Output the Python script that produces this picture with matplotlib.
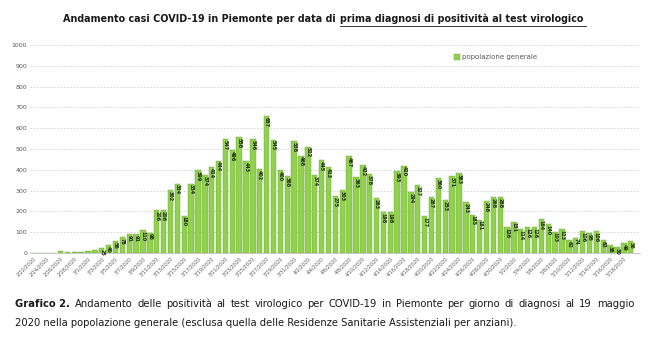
import numpy as np
import matplotlib
matplotlib.use("Agg")
import matplotlib.pyplot as plt
from matplotlib.lines import Line2D
from datetime import date, timedelta

# casi per giorno di prima diagnosi, popolazione generale (22/2 - 19/5/2020)
start = date(2020, 2, 22)
casi = [0, 1, 0, 2, 8, 6, 3, 5, 8, 14, 25, 40, 56, 78, 91, 91, 110, 98,
        206, 206, 302, 334, 180, 334, 399, 374, 414, 444, 547, 496, 558, 443,
        546, 402, 657,
        545, 400, 368, 538, 468, 512, 374, 445, 413, 275, 303, 467, 363, 422,
        378, 263, 198, 198, 393, 420, 294, 327, 177, 267, 360, 253, 371, 383,
        243, 185, 161, 248, 268, 268, 126, 151, 114, 126, 126, 164, 140, 103,
        113, 62, 74, 106, 95, 106, 62, 38, 30, 49, 56]
giorni = [start + timedelta(days=i) for i in range(len(casi))]
etichette = [f"{d.month}/{d.day}/{d.year}" for d in giorni]
yticks = list(range(0, 1001, 100))

verde = "#92d050"
grigio = "#595959"
nero = "#1a1a1a"

fig = plt.figure(figsize=(6.5, 3.45), dpi=100)
ax = fig.add_axes([30 / 650, 1 - 253 / 345, 610 / 650, 208 / 345])

x = np.arange(len(casi))
ax.bar(x, casi, width=0.78, color=verde, edgecolor="#6fa83a", linewidth=0.3,
       label="popolazione generale", zorder=3)

for i, v in enumerate(casi):
    if v >= 20:
        ax.text(i, v - 4, str(v), rotation=270, ha="center", va="top",
                fontsize=3.5, fontweight="bold", color="#1e2a10", zorder=4)

ax.set_ylim(0, 1000)
ax.set_xlim(-0.45, 88.35)
ax.set_yticks(yticks)
ax.set_yticklabels([str(t) for t in yticks], fontsize=4.5, color=grigio)
ax.yaxis.grid(True, linestyle=(0, (2, 2)), color="#d0d0d0", linewidth=0.6, zorder=0)
ax.tick_params(axis="y", length=0, pad=2)

ax.set_xticks(x[::2])
ax.set_xticklabels(etichette[::2], rotation=45, ha="right", rotation_mode="anchor",
                   fontsize=3.6, color=grigio)
ax.tick_params(axis="x", length=0, pad=2)

for s in ["top", "right", "left"]:
    ax.spines[s].set_visible(False)
ax.spines["bottom"].set_color("#bfbfbf")
ax.spines["bottom"].set_linewidth(0.6)

ax.legend(loc="upper left", bbox_to_anchor=(0.685, 0.985), frameon=False,
          fontsize=5, handlelength=0.8, handleheight=0.8, handletextpad=0.4,
          labelcolor=grigio)

# titolo con la seconda parte sottolineata
ty = 1 - 19 / 345
t1 = fig.text(339 / 650, ty, "Andamento casi COVID-19 in Piemonte per data di ",
              ha="right", va="center", fontsize=6.9, fontweight="bold", color=nero)
t2 = fig.text(340 / 650, ty, "prima diagnosi di positività al test virologico",
              ha="left", va="center", fontsize=6.9, fontweight="bold", color=nero)
fig.canvas.draw()
inv = fig.transFigure.inverted()
bb = t2.get_window_extent().transformed(inv)
fig.add_artist(Line2D([bb.x0, bb.x1 + 0.004], [bb.y0 - 0.004, bb.y0 - 0.004],
                      transform=fig.transFigure, color=nero, linewidth=0.6))

# didascalia, prima riga giustificata
cy1 = 1 - 304 / 345
cy2 = 1 - 323 / 345
x0, x1 = 15 / 650, 634 / 650
parole = ("Andamento delle positività al test virologico per COVID-19 in Piemonte "
          "per giorno di diagnosi al 19 maggio").split()
pezzi = [fig.text(0, cy1, "Grafico 2.", ha="left", va="center", fontsize=7.2,
                  fontweight="bold", color=nero)]
pezzi += [fig.text(0, cy1, p, ha="left", va="center", fontsize=7.2, color=nero)
          for p in parole]
fig.canvas.draw()
larghezze = [p.get_window_extent().transformed(inv).width for p in pezzi]
spazio = (x1 - x0 - sum(larghezze)) / (len(pezzi) - 1)
pos = x0
for p, w in zip(pezzi, larghezze):
    p.set_x(pos)
    pos += w + spazio

fig.text(x0, cy2,
         "2020 nella popolazione generale (esclusa quella delle Residenze Sanitarie "
         "Assistenziali per anziani).",
         ha="left", va="center", fontsize=7.2, color=nero)

fig.savefig("out.png", dpi=100, facecolor="white")
